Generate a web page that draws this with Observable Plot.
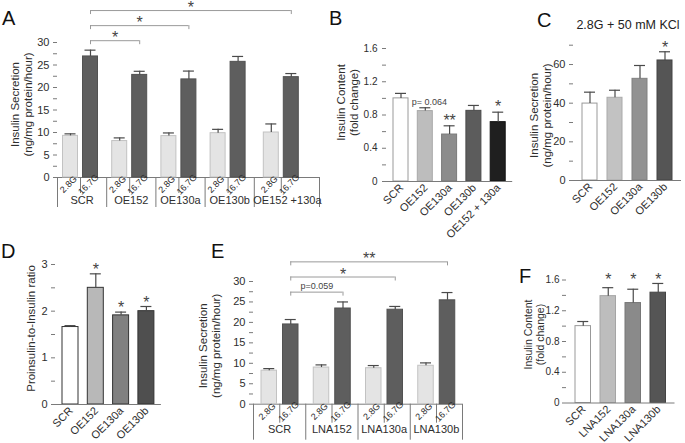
<!DOCTYPE html>
<html><head><meta charset="utf-8">
<script src="https://cdn.jsdelivr.net/npm/d3@7"></script>
<script src="https://cdn.jsdelivr.net/npm/@observablehq/plot@0.6"></script>
<style>
html,body{margin:0;padding:0;background:#fff;}
#fig{position:relative;width:685px;height:443px;overflow:hidden;background:#fff;font-family:"Liberation Sans",Arial,Helvetica,sans-serif;}
#fig svg{position:absolute;}
</style></head><body><div id="fig"></div>
<script>
// ---------- DATA ----------
// Panel A: insulin secretion, overexpression
const groupsA = ["SCR", "OE152", "OE130a", "OE130b", "OE152 +130a"];
const condLabels = ["2.8G", "16.7G"];
const secA_28 = [9.25, 8.1, 9.2, 9.85, 10.0];
const semA_28 = [0.45, 0.7, 0.7, 0.85, 1.9];
const secA_167 = [26.9, 22.8, 21.8, 25.7, 22.3];
const semA_167 = [1.4, 0.8, 1.85, 1.2, 0.8];
const ticksA = [0, 5, 10, 15, 20, 25, 30];
const sigA = [
  {from: "SCR", to: "OE152", label: "*"},
  {from: "SCR", to: "OE130a", label: "*"},
  {from: "SCR", to: "OE152 +130a", label: "*"}
];
// Panel B: insulin content
const catsB = ["SCR", "OE152", "OE130a", "OE130b", "OE152 + 130a"];
const contentB = [1.0, 0.847, 0.565, 0.85, 0.714];
const semB = [0.06, 0.04, 0.105, 0.065, 0.12];
const starsB = ["", "", "**", "", "*"];
const notesB = [{cat: "OE152", label: "p= 0.064"}];
const ticksB = [0, 0.4, 0.8, 1.2, 1.6];
// Panel C: 2.8G + 50 mM KCl
const catsC = ["SCR", "OE152", "OE130a", "OE130b"];
const secC = [39.8, 42.8, 52.6, 62.1];
const semC = [5.9, 3.9, 6.9, 4.5];
const starsC = ["", "", "", "*"];
const ticksC = [0, 20, 40, 60];
// Panel D: proinsulin-to-insulin ratio
const catsD = ["SCR", "OE152", "OE130a", "OE130b"];
const ratioD = [1.66, 2.5, 1.91, 2.0];
const semD = [0.03, 0.3, 0.07, 0.1];
const starsD = ["", "*", "*", "*"];
const ticksD = [0, 1, 2, 3];
// Panel E: insulin secretion, LNA
const groupsE = ["SCR", "LNA152", "LNA130a", "LNA130b"];
const secE_28 = [8.2, 8.96, 8.8, 9.4];
const semE_28 = [0.5, 0.65, 0.65, 0.7];
const secE_167 = [19.5, 23.4, 23.1, 25.4];
const semE_167 = [1.2, 1.6, 0.8, 1.9];
const ticksE = [0, 5, 10, 15, 20, 25, 30];
const sigE = [
  {from: "SCR", to: "LNA152", label: "p=0.059"},
  {from: "SCR", to: "LNA130a", label: "*"},
  {from: "SCR", to: "LNA130b", label: "**"}
];
// Panel F: insulin content, LNA
const catsF = ["SCR", "LNA152", "LNA130a", "LNA130b"];
const contentF = [1.0, 1.39, 1.30, 1.435];
const semF = [0.06, 0.11, 0.18, 0.12];
const starsF = ["", "*", "*", "*"];
const ticksF = [0, 0.4, 0.8, 1.2, 1.6];

// ---------- STYLE ----------
const FONT = "'Liberation Sans', Arial, Helvetica, sans-serif";
const INK = "#2e2e2e";
const AXIS = "#7a7a7a";
const ERR = "#4a4a4a";
const BRK = "#9a9a9a";
const fig = document.getElementById("fig");

function place(el, left, top) {
  el.style.position = "absolute";
  el.style.left = left + "px";
  el.style.top = top + "px";
  fig.appendChild(el);
}
function tickSet(majors, yMax) {
  const s = majors[1] - majors[0], half = s / 2;
  const n = Math.round(yMax / half);
  const all = d3.range(n + 1).map(i => +(i * half).toFixed(6));
  const isMajor = d => Math.abs(d / s - Math.round(d / s)) < 1e-6;
  return {all, isMajor};
}
const fmt1 = d => d === 0 ? "0" : d.toFixed(1);
const fmt0 = d => String(d);

function yLabel(o) {
  return Plot.text([o.ylabel], {frameAnchor: "left", text: d => d, rotate: -90, textAnchor: "middle", lineAnchor: "middle",
    dx: o.labDx, dy: o.labDy, fontSize: o.labSize || 11.5, lineHeight: 1.1, fill: INK});
}

function simplePanel(o) {
  const n = o.cats.length;
  const pI = 1 - o.bw / o.step, pO = o.gap / o.step;
  const mr = o.width - o.ml - o.step * (n - pI + 2 * pO);
  const rows = o.cats.map((c, i) => ({cat: c, v: o.vals[i], top: o.vals[i] + o.sems[i],
    star: o.stars[i], fill: o.fills[i], stroke: o.strokes[i]}));
  const {all, isMajor} = tickSet(o.ticks, o.yMax);
  const cap = 5.5;
  const marks = [
    Plot.barY(rows, {x: "cat", y: "v", fill: "fill", stroke: "stroke", strokeWidth: 1}),
    Plot.ruleX(rows, {x: "cat", y1: "v", y2: "top", stroke: ERR, strokeWidth: 1.2}),
    Plot.ruleY(rows, {x1: "cat", x2: "cat", y: "top", insetLeft: o.bw / 2 - cap, insetRight: o.bw / 2 - cap, stroke: ERR, strokeWidth: 1.2}),
    Plot.ruleY([0], {stroke: AXIS}),
    Plot.axisY({ticks: all, tickSize: 4, tickPadding: o.tickPad || 4, line: true, stroke: AXIS, fill: INK, fontSize: o.tickSize || 11,
      tickFormat: d => isMajor(d) ? o.fmt(d) : "", label: null}),
    Plot.text(rows, {x: "cat", text: "cat", frameAnchor: "bottom", rotate: -45, textAnchor: "end",
      dx: 3, dy: 7, fontSize: 11, fill: INK}),
    yLabel(o)
  ];
  const starred = rows.filter(d => d.star);
  if (o.starsTop) {
    marks.push(Plot.text(starred, {x: "cat", text: "star", frameAnchor: "top", lineAnchor: "bottom", dy: o.starDy, fontSize: 16, fill: "#444"}));
  } else {
    marks.push(Plot.text(starred, {x: "cat", y: "top", text: "star", lineAnchor: "bottom", dy: o.starDy, fontSize: 16, fill: "#444"}));
  }
  if (o.notes) {
    const nr = o.notes.map(d => ({...d, top: rows.find(r => r.cat === d.cat).top}));
    marks.push(Plot.text(nr, {x: "cat", y: "top", text: "label", textAnchor: "start", lineAnchor: "bottom", dx: -13.5, dy: -3, fontSize: 9, fill: "#444"}));
  }
  const svg = Plot.plot({
    width: o.width, height: o.height,
    marginLeft: o.ml, marginRight: mr, marginTop: o.mt, marginBottom: o.mb,
    style: {background: "transparent", overflow: "visible", fontFamily: FONT},
    x: {domain: o.cats, paddingInner: pI, paddingOuter: pO, round: false, axis: null},
    y: {domain: [0, o.yMax], axis: null},
    color: {type: "identity"},
    marks
  });
  place(svg, o.left, o.top);
}

function groupedPanel(o) {
  const n = o.groups.length;
  const cell = (o.width - o.ml - o.mr) / n;
  const last = o.groups[n - 1];
  const rows = [];
  o.groups.forEach((g, i) => {
    rows.push({group: g, cond: condLabels[0], v: o.v28[i], top: o.v28[i] + o.s28[i], idx: i});
    rows.push({group: g, cond: condLabels[1], v: o.v167[i], top: o.v167[i] + o.s167[i], idx: i});
  });
  const style = {"2.8G": {fill: "#e4e4e4", stroke: "#c2c2c2"}, "16.7G": {fill: "#5e5e5e", stroke: "#525252"}};
  const cap = 5.5;
  const {all, isMajor} = tickSet(o.ticks, o.yMax);
  const marks = [];
  // table lines
  marks.push(Plot.ruleY([0], {stroke: AXIS, insetRight: -o.lastExtra}));
  marks.push(Plot.ruleX(o.groups, {x: d => d, y1: 0, y2: 0, dx: -cell / 2, insetBottom: -o.grpDepth, stroke: AXIS}));
  marks.push(Plot.ruleX([last], {x: d => d, y1: 0, y2: 0, dx: cell / 2 + o.lastExtra, insetBottom: -o.grpDepth, stroke: AXIS}));
  for (const isLast of [false, true]) {
    const shift = isLast ? o.lastShift : 0;
    const gs = o.groups.filter(g => (g === last) === isLast);
    marks.push(Plot.ruleX(gs, {x: d => d, y1: 0, y2: 0, dx: o.subSep + shift - cell / 2, insetBottom: -o.subDepth, stroke: AXIS}));
    marks.push(Plot.text(gs, {x: d => d, text: d => d, frameAnchor: "bottom", dy: o.grpDy,
      dx: isLast ? o.lastLabelDx : 0, fontSize: 11, fill: INK}));
    for (const cond of condLabels) {
      const [a, b] = o.bars[cond];
      const c = (a + b) / 2 + shift;
      const sub = rows.filter(d => d.cond === cond && (d.group === last) === isLast);
      marks.push(Plot.barY(sub, {x: "group", y: "v", fill: style[cond].fill, stroke: style[cond].stroke,
        insetLeft: a + shift, insetRight: cell - b - shift}));
      marks.push(Plot.ruleX(sub, {x: "group", y1: "v", y2: "top", dx: c - cell / 2, stroke: ERR, strokeWidth: 1.2}));
      marks.push(Plot.ruleY(sub, {x1: "group", x2: "group", y: "top", insetLeft: c - cap, insetRight: cell - c - cap, stroke: ERR, strokeWidth: 1.2}));
      marks.push(Plot.text(sub, {x: "group", text: "cond", frameAnchor: "bottom", dx: c - cell / 2, dy: o.subDy,
        rotate: -45, textAnchor: "middle", fontSize: 9, fill: INK}));
    }
  }
  // axis
  marks.push(Plot.axisY({ticks: all, tickSize: 4, tickPadding: 4, line: true, stroke: AXIS, fill: INK, fontSize: 11,
    tickFormat: d => isMajor(d) ? String(d) : "", label: null}));
  // y label
  marks.push(yLabel(o));
  // significance brackets
  const c167 = (o.bars["16.7G"][0] + o.bars["16.7G"][1]) / 2;
  o.sig.forEach((s, k) => {
    const level = o.brBase + k * o.brStep;
    const fi = o.groups.indexOf(s.from), ti = o.groups.indexOf(s.to);
    const tShift = s.to === last ? o.lastShift : 0;
    marks.push(Plot.ruleY([s], {x1: "from", x2: "to", y: level, insetLeft: c167, insetRight: cell - c167 - tShift, stroke: BRK}));
    marks.push(Plot.ruleX([s], {x: "from", y1: level, y2: level, dx: c167 - cell / 2, insetBottom: -4, stroke: BRK}));
    marks.push(Plot.ruleX([s], {x: "to", y1: level, y2: level, dx: c167 + tShift - cell / 2, insetBottom: -4, stroke: BRK}));
    const isP = s.label.startsWith("p");
    marks.push(Plot.text([s], {x: "from", y: level, text: "label", lineAnchor: "bottom", textAnchor: "middle",
      dx: ((ti - fi) * cell + tShift) / 2 + c167 - cell / 2, dy: isP ? -3 : 2.6,
      fontSize: isP ? 9 : 16, fill: "#444"}));
  });
  const svg = Plot.plot({
    width: o.width, height: o.height,
    marginLeft: o.ml, marginRight: o.mr, marginTop: o.mt, marginBottom: o.mb,
    style: {background: "transparent", overflow: "visible", fontFamily: FONT},
    x: {domain: o.groups, padding: 0, round: false, axis: null},
    y: {domain: [0, o.yMax], axis: null},
    marks
  });
  place(svg, o.left, o.top);
}

// ---------- PANELS ----------
groupedPanel({
  left: 0, top: 0, width: 330, height: 215, ml: 57, mr: 27, mt: 42, mb: 38,
  groups: groupsA, v28: secA_28, s28: semA_28, v167: secA_167, s167: semA_167,
  ticks: ticksA, yMax: 30, sig: sigA, brBase: 30.4, brStep: 3.35,
  bars: {"2.8G": [5.5, 20.5], "16.7G": [25.5, 40.5]}, subSep: 23,
  lastShift: 4, lastExtra: 16, lastLabelDx: 8.5,
  subDy: 9, grpDy: 26, subDepth: 16, grpDepth: 30,
  ylabel: "Insulin Secretion\n(ng/mg protein/hour)", labDx: -36, labDy: -5.5
});
simplePanel({
  left: 330, top: 0, width: 190, height: 215, ml: 56, mt: 48, mb: 34, step: 24.3, bw: 15, gap: 7,
  cats: catsB, vals: contentB, sems: semB, stars: starsB, notes: notesB, ticks: ticksB, yMax: 1.6, fmt: fmt1,
  fills: ["#ffffff", "#bdbdbd", "#8c8c8c", "#5c5c5c", "#1f1f1f"],
  strokes: ["#9a9a9a", "#a8a8a8", "#7a7a7a", "#4a4a4a", "#111111"],
  starDy: 0, ylabel: "Insulin Content\n(fold change)", labDx: -39, labDy: -12.5, tickSize: 10, tickPad: 5
});
simplePanel({
  left: 515, top: 0, width: 170, height: 215, ml: 58, mt: 44.7, mb: 35, step: 25, bw: 15, gap: 9,
  cats: catsC, vals: secC, sems: semC, stars: starsC, ticks: ticksC, yMax: 70, fmt: fmt0,
  fills: ["#ffffff", "#c2c2c2", "#929292", "#555555"],
  strokes: ["#999999", "#aaaaaa", "#808080", "#444444"],
  starDy: 1, ylabel: "Insulin Secretion\n(ng/mg protein/hour)", labDx: -33, labDy: 2.6
});
simplePanel({
  left: 0, top: 220, width: 165, height: 205, ml: 55, mt: 44, mb: 21, step: 25.3, bw: 16, gap: 7,
  cats: catsD, vals: ratioD, sems: semD, stars: starsD, ticks: ticksD, yMax: 3, fmt: fmt0,
  fills: ["#ffffff", "#b8b8b8", "#808080", "#4f4f4f"],
  strokes: ["#333333", "#333333", "#333333", "#333333"],
  starDy: 1, ylabel: "Proinsulin-to-Insulin ratio", labDx: -25, labDy: -6
});
groupedPanel({
  left: 170, top: 220, width: 310, height: 225, ml: 83, mr: 18, mt: 61, mb: 41.3,
  groups: groupsE, v28: secE_28, s28: semE_28, v167: secE_167, s167: semE_167,
  ticks: ticksE, yMax: 30, sig: sigE, brBase: 27.4, brStep: 3.7,
  bars: {"2.8G": [8, 23.5], "16.7G": [29.5, 45]}, subSep: 26.25,
  lastShift: 0, lastExtra: 0, lastLabelDx: 0,
  subDy: 9.5, grpDy: 28.5, subDepth: 19, grpDepth: 36,
  ylabel: "Insulin Secretion\n(ng/mg protein/hour)", labDx: -44, labDy: 3
});
simplePanel({
  left: 510, top: 220, width: 175, height: 205, ml: 56, mt: 59.5, mb: 22.5, step: 25, bw: 15.5, gap: 9,
  cats: catsF, vals: contentF, sems: semF, stars: starsF, starsTop: true, ticks: ticksF, yMax: 1.6, fmt: fmt1,
  fills: ["#ffffff", "#bdbdbd", "#8a8a8a", "#555555"],
  strokes: ["#999999", "#a5a5a5", "#777777", "#444444"],
  starDy: 4.5, ylabel: "Insulin Content\n(fold change)", labDx: -32, labDy: -7, labSize: 10.5, tickSize: 10, tickPad: 3
});

// ---------- PANEL LETTERS & TITLE ----------
const over = d3.create("svg").attr("width", 685).attr("height", 443)
  .style("left", "0px").style("top", "0px").style("font-family", FONT).style("pointer-events", "none");
const letters = [["A", 2, 25], ["B", 329, 25], ["C", 537, 27], ["D", 1, 258], ["E", 211, 258], ["F", 519, 283]];
over.selectAll("text.l").data(letters).join("text").attr("class", "l")
  .attr("x", d => d[1]).attr("y", d => d[2]).attr("font-size", 20).attr("fill", "#111").text(d => d[0]);
over.append("text").attr("x", 628).attr("y", 29).attr("text-anchor", "middle")
  .attr("font-size", 12.5).attr("fill", "#222").text("2.8G + 50 mM KCl");
fig.appendChild(over.node());
</script></body></html>
